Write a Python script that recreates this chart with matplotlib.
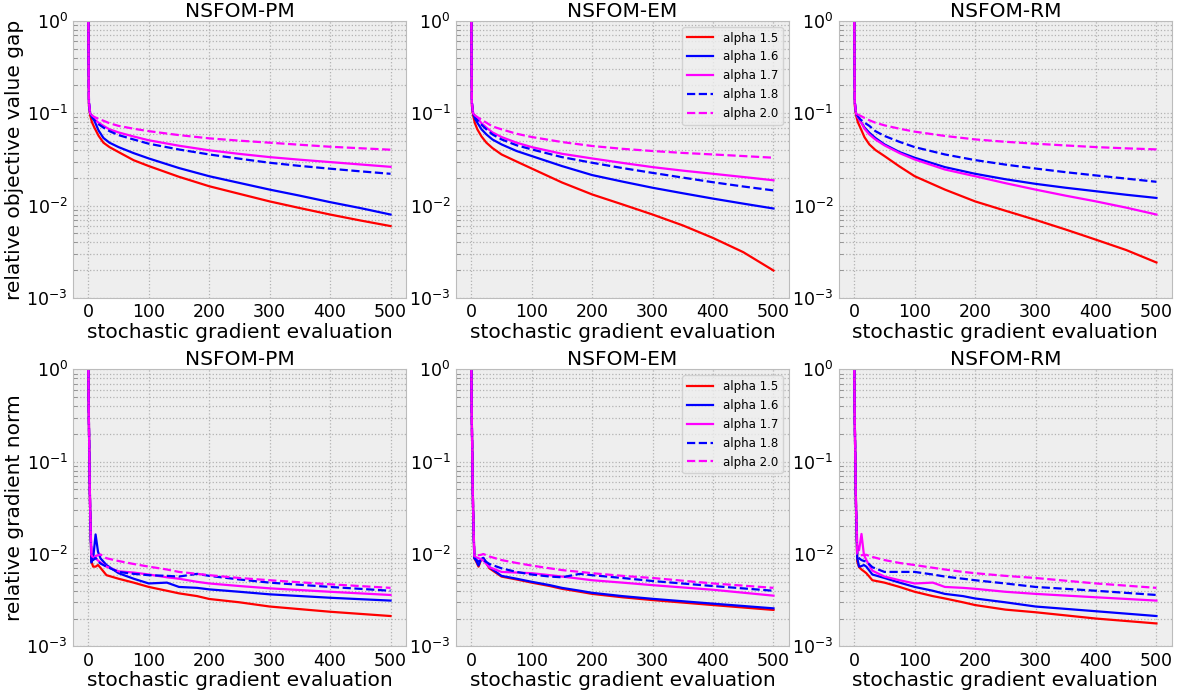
import matplotlib
matplotlib.use("Agg")
import matplotlib.pyplot as plt
from matplotlib.ticker import LogLocator, NullFormatter

# iteration counts (x) at which values were read
X_GAP = [0, 1, 3, 6, 10, 17, 25, 35, 50, 75, 100, 150, 200, 250, 300, 350, 400, 450, 500]
X_NORM = [0, 1, 2, 3, 5, 8, 12, 16, 20, 30, 50, 75, 100, 130, 150, 180, 200, 250, 300, 400, 500]

METHODS = ["NSFOM-PM", "NSFOM-EM", "NSFOM-RM"]
LABELS = ["alpha 1.5", "alpha 1.6", "alpha 1.7", "alpha 1.8", "alpha 2.0"]
COLORS = ["red", "blue", "magenta", "blue", "magenta"]
STYLES = ["-", "-", "-", "--", "--"]

# relative objective value gap
GAP_PM = [
    [1.0, 0.12, 0.095, 0.080, 0.070, 0.057, 0.048, 0.043, 0.038, 0.031, 0.0268, 0.0205, 0.0162, 0.0134, 0.0111, 0.0094, 0.0080, 0.0069, 0.0060],
    [1.0, 0.13, 0.100, 0.092, 0.083, 0.065, 0.054, 0.048, 0.043, 0.037, 0.0324, 0.0255, 0.0208, 0.0176, 0.0149, 0.0128, 0.0109, 0.0094, 0.0080],
    [1.0, 0.13, 0.100, 0.093, 0.086, 0.079, 0.073, 0.067, 0.062, 0.056, 0.0510, 0.0445, 0.0397, 0.0363, 0.0335, 0.0314, 0.0296, 0.0279, 0.0263],
    [1.0, 0.13, 0.100, 0.091, 0.084, 0.076, 0.070, 0.064, 0.058, 0.052, 0.0468, 0.0405, 0.0358, 0.0322, 0.0291, 0.0269, 0.0251, 0.0235, 0.0221],
    [1.0, 0.13, 0.100, 0.095, 0.091, 0.087, 0.083, 0.078, 0.073, 0.068, 0.0640, 0.0580, 0.0535, 0.0505, 0.0480, 0.0456, 0.0434, 0.0418, 0.0403],
]
GAP_EM = [
    [1.0, 0.12, 0.095, 0.078, 0.067, 0.056, 0.048, 0.042, 0.0358, 0.030, 0.0252, 0.0178, 0.0132, 0.0103, 0.0080, 0.0061, 0.00446, 0.00313, 0.00198],
    [1.0, 0.13, 0.100, 0.088, 0.079, 0.067, 0.059, 0.052, 0.0460, 0.039, 0.0344, 0.0268, 0.0214, 0.0182, 0.0156, 0.0136, 0.0119, 0.0105, 0.0093],
    [1.0, 0.13, 0.100, 0.094, 0.088, 0.078, 0.070, 0.062, 0.0553, 0.048, 0.0430, 0.0364, 0.0324, 0.0290, 0.0261, 0.0239, 0.0221, 0.0204, 0.0188],
    [1.0, 0.13, 0.100, 0.091, 0.084, 0.075, 0.067, 0.059, 0.0521, 0.045, 0.0406, 0.0335, 0.0291, 0.0255, 0.0226, 0.0201, 0.0179, 0.0161, 0.0146],
    [1.0, 0.13, 0.100, 0.095, 0.091, 0.085, 0.079, 0.072, 0.0670, 0.060, 0.0553, 0.0488, 0.0442, 0.0412, 0.0390, 0.0372, 0.0358, 0.0344, 0.0330],
]
GAP_RM = [
    [1.0, 0.12, 0.095, 0.080, 0.070, 0.055, 0.046, 0.040, 0.0344, 0.0265, 0.0208, 0.0149, 0.0111, 0.0088, 0.0070, 0.0055, 0.00427, 0.0033, 0.00242],
    [1.0, 0.13, 0.100, 0.090, 0.083, 0.070, 0.0616, 0.054, 0.0460, 0.038, 0.0330, 0.0261, 0.0221, 0.0193, 0.0172, 0.0156, 0.0143, 0.0131, 0.0121],
    [1.0, 0.13, 0.100, 0.090, 0.083, 0.068, 0.059, 0.052, 0.0449, 0.037, 0.0316, 0.0246, 0.0208, 0.0175, 0.0149, 0.0128, 0.0111, 0.0095, 0.0080],
    [1.0, 0.13, 0.100, 0.093, 0.086, 0.079, 0.073, 0.064, 0.0568, 0.049, 0.0430, 0.0358, 0.0311, 0.0278, 0.0252, 0.0230, 0.0212, 0.0196, 0.0181],
    [1.0, 0.13, 0.100, 0.097, 0.094, 0.089, 0.084, 0.079, 0.0740, 0.068, 0.0632, 0.0568, 0.0521, 0.0491, 0.0468, 0.0448, 0.0430, 0.0417, 0.0406],
]

# relative gradient norm
NORM_PM = [
    [1.0, 0.25, 0.08, 0.030, 0.0083, 0.0073, 0.0073, 0.0076, 0.0071, 0.0059, 0.0054, 0.0049, 0.0044, 0.0040, 0.00375, 0.0035, 0.00326, 0.0030, 0.0027, 0.00237, 0.00213],
    [1.0, 0.25, 0.08, 0.030, 0.0081, 0.0090, 0.0163, 0.0106, 0.0090, 0.0076, 0.0062, 0.0054, 0.0048, 0.0049, 0.0044, 0.0043, 0.00414, 0.0039, 0.00366, 0.00336, 0.00313],
    [1.0, 0.25, 0.08, 0.030, 0.0098, 0.0091, 0.0090, 0.0085, 0.0081, 0.0073, 0.0065, 0.0063, 0.0060, 0.0056, 0.0054, 0.0050, 0.0048, 0.0045, 0.00425, 0.0039, 0.0036],
    [1.0, 0.25, 0.08, 0.030, 0.0090, 0.0086, 0.0091, 0.0083, 0.0079, 0.0073, 0.0064, 0.0061, 0.0059, 0.0058, 0.0057, 0.0061, 0.0058, 0.0053, 0.0049, 0.0044, 0.0040],
    [1.0, 0.25, 0.08, 0.030, 0.0100, 0.0097, 0.0095, 0.0097, 0.0099, 0.0090, 0.0084, 0.0078, 0.0073, 0.0068, 0.0064, 0.0061, 0.0059, 0.0055, 0.0052, 0.0047, 0.0043],
]
NORM_EM = [
    [1.0, 0.25, 0.08, 0.030, 0.0090, 0.0083, 0.0073, 0.0086, 0.0090, 0.0070, 0.0057, 0.0053, 0.0049, 0.0045, 0.0042, 0.0039, 0.0037, 0.0034, 0.00317, 0.0028, 0.00248],
    [1.0, 0.25, 0.08, 0.030, 0.0092, 0.0085, 0.0075, 0.0088, 0.0091, 0.0072, 0.0058, 0.0054, 0.0050, 0.0046, 0.0043, 0.0040, 0.0038, 0.0035, 0.00327, 0.0029, 0.00258],
    [1.0, 0.25, 0.08, 0.030, 0.0095, 0.0092, 0.0090, 0.0088, 0.0085, 0.0072, 0.0064, 0.0063, 0.0062, 0.0059, 0.0057, 0.0054, 0.0052, 0.0049, 0.0046, 0.0041, 0.00354],
    [1.0, 0.25, 0.08, 0.030, 0.0090, 0.0087, 0.0083, 0.0085, 0.0086, 0.0078, 0.0070, 0.0064, 0.0060, 0.0057, 0.0056, 0.0061, 0.0059, 0.0055, 0.0051, 0.0045, 0.0040],
    [1.0, 0.25, 0.08, 0.030, 0.0100, 0.0098, 0.0097, 0.0098, 0.0100, 0.0094, 0.0086, 0.0080, 0.0075, 0.0070, 0.0067, 0.0064, 0.0062, 0.0058, 0.0055, 0.0048, 0.0043],
]
NORM_RM = [
    [1.0, 0.25, 0.08, 0.030, 0.0083, 0.0072, 0.0068, 0.0065, 0.0062, 0.0052, 0.0049, 0.0044, 0.0039, 0.0035, 0.0033, 0.0030, 0.0028, 0.0025, 0.00234, 0.0020, 0.00177],
    [1.0, 0.25, 0.08, 0.030, 0.0090, 0.0073, 0.0074, 0.0076, 0.0073, 0.0060, 0.0055, 0.0049, 0.0044, 0.0040, 0.0037, 0.0035, 0.0033, 0.0030, 0.0027, 0.0024, 0.00213],
    [1.0, 0.25, 0.08, 0.035, 0.0125, 0.0110, 0.0165, 0.0098, 0.0086, 0.0066, 0.0057, 0.0052, 0.0048, 0.0049, 0.0044, 0.0043, 0.0042, 0.0039, 0.0037, 0.0034, 0.00313],
    [1.0, 0.25, 0.08, 0.030, 0.0098, 0.0090, 0.0086, 0.0084, 0.0083, 0.0072, 0.0064, 0.0064, 0.0064, 0.0060, 0.0057, 0.0054, 0.0052, 0.0048, 0.0044, 0.0040, 0.0036],
    [1.0, 0.25, 0.08, 0.030, 0.0100, 0.0098, 0.0097, 0.0098, 0.0098, 0.0093, 0.0086, 0.0080, 0.0076, 0.0071, 0.0068, 0.0064, 0.0062, 0.0058, 0.0055, 0.0048, 0.0043],
]

GAP = [GAP_PM, GAP_EM, GAP_RM]
NORM = [NORM_PM, NORM_EM, NORM_RM]


def style_axis(ax):
    ax.set_facecolor("#eeeeee")
    ax.set_yscale("log")
    ax.set_ylim(1e-3, 1)
    ax.set_xticks([0, 100, 200, 300, 400, 500])
    ax.yaxis.set_minor_locator(LogLocator(base=10, subs=range(2, 10)))
    ax.yaxis.set_minor_formatter(NullFormatter())
    ax.grid(True, which="major", color="#b2b2b2", linestyle=":", linewidth=0.9)
    ax.grid(True, which="minor", axis="y", color="#b2b2b2", linestyle=":", linewidth=0.9)
    for s in ax.spines.values():
        s.set_color("#bcbcbc")
    ax.tick_params(axis="both", which="major", labelsize=12.5, length=0, pad=4)
    ax.tick_params(axis="y", which="minor", length=3, color="#888888", direction="in")


fig, axes = plt.subplots(2, 3, figsize=(11.81, 6.98), dpi=100)
fig.subplots_adjust(left=0.062, right=0.992, top=0.970, bottom=0.074, wspace=0.152, hspace=0.258)

for row, (xs, data) in enumerate([(X_GAP, GAP), (X_NORM, NORM)]):
    for col in range(3):
        ax = axes[row][col]
        for i in range(5):
            ax.plot(xs, data[col][i], color=COLORS[i], linestyle=STYLES[i],
                    linewidth=1.6, label=LABELS[i])
        style_axis(ax)
        ax.set_title(METHODS[col], fontsize=14.5, pad=3)
        ax.set_xlabel("stochastic gradient evaluation", fontsize=14.5, labelpad=1)
        if col == 1:
            ax.legend(loc="upper right", fontsize=8.5, fancybox=True, framealpha=0.8,
                      facecolor="#eeeeee", edgecolor="#cccccc", handlelength=2.2)

axes[0][0].set_ylabel("relative objective value gap", fontsize=14.5, labelpad=2)
axes[1][0].set_ylabel("relative gradient norm", fontsize=14.5, labelpad=2)

fig.savefig("out.png", dpi=100)
